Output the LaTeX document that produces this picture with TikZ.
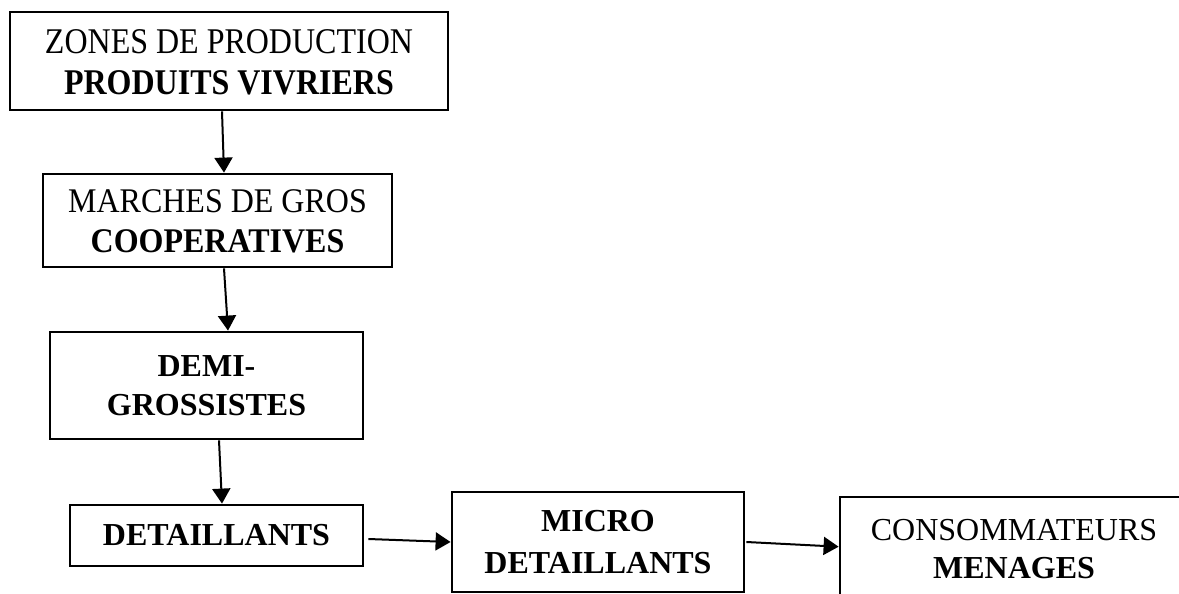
\documentclass[tikz,border=0pt]{standalone}
\usepackage{fontspec}
\setmainfont{Liberation Serif}
\usetikzlibrary{arrows.meta}
\newcommand{\stretched}[4]{\raisebox{#1}[\height][\depth]{\scalebox{1}[#2]{\fontsize{32}{#3}\selectfont\begin{tabular}{@{}c@{}}#4\end{tabular}}}}
\begin{document}
\begin{tikzpicture}[x=1pt,y=-1pt,
  box/.style={draw,line width=2.8pt,align=center,inner sep=0pt,font=\fontsize{32}{39}\selectfont},
  flow/.style={line width=2pt,-{Triangle[length=15pt,width=18pt]}}]
\useasboundingbox (0,0) rectangle (1179,594);
\clip (0,0) rectangle (1179,594);
\node[box,minimum width=438,minimum height=98] (zones) at (229,61) {\stretched{-5pt}{1.13}{35.5}{ZONES DE PRODUCTION\\\textbf{PRODUITS VIVRIERS}}};
\node[box,minimum width=349,minimum height=93] (marches) at (217.5,220.5) {\stretched{-4pt}{1.08}{37}{MARCHES DE GROS\\\textbf{COOPERATIVES}}};
\node[box,minimum width=313,minimum height=107] (demi) at (206.5,385.5) {\textbf{DEMI-}\\\textbf{GROSSISTES}};
\node[box,minimum width=293,minimum height=61] (detail) at (216.5,535.5) {\textbf{DETAILLANTS}};
\node[box,minimum width=292,minimum height=100,font=\fontsize{32}{42}\selectfont] (micro) at (598,542) {\textbf{MICRO}\\\textbf{DETAILLANTS}};
\node[box,minimum width=348,minimum height=104,font=\fontsize{32}{38}\selectfont] (conso) at (1014,549) {CONSOMMATEURS\\\textbf{MENAGES}};
\draw[flow] ([xshift=-7]zones.south) -- ([xshift=6.5]marches.north);
\draw[flow] ([xshift=6.5]marches.south) -- ([xshift=21.5]demi.north);
\draw[flow] ([xshift=12.5]demi.south) -- ([xshift=5.5]detail.north);
\draw[flow] ([xshift=4,yshift=-3.5]detail.east) -- (micro.west);
\draw[flow] ([xshift=1]micro.east) -- ([yshift=2.3]conso.west);
\end{tikzpicture}
\end{document}
